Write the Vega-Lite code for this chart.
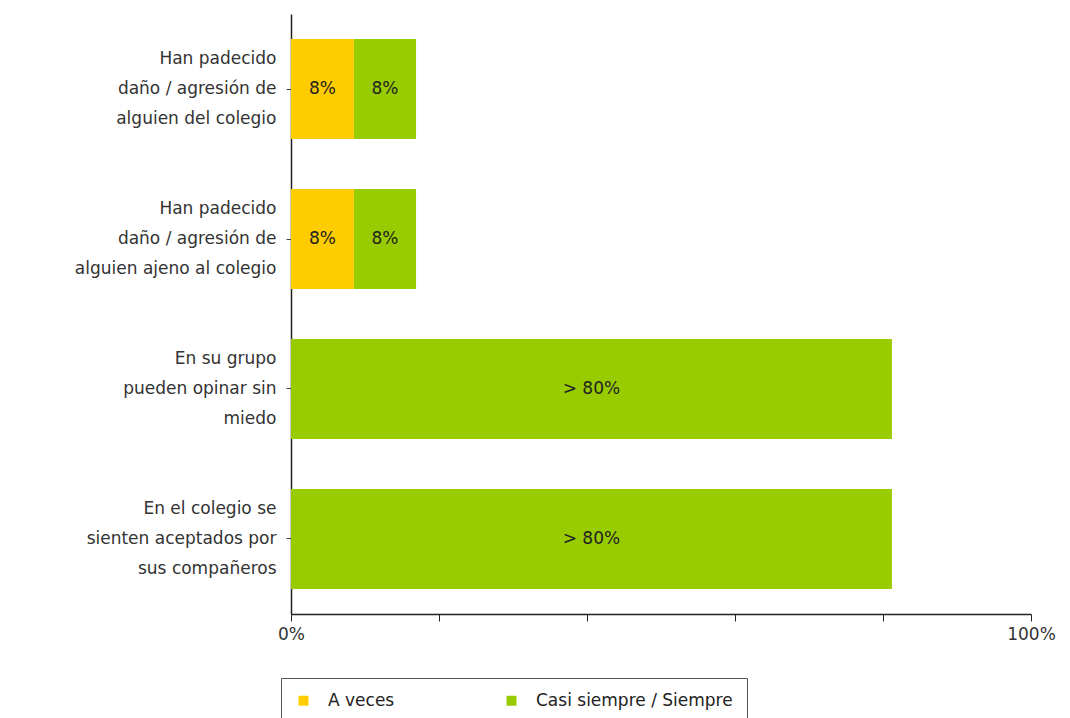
{
  "$schema": "https://vega.github.io/schema/vega-lite/v6.json",
  "autosize": {"type": "none"},
  "padding": {"left": 291, "top": 14, "right": 39, "bottom": 104},
  "width": 740,
  "height": 600,
  "background": "white",
  "config": {
    "view": {"stroke": null},
    "font": "DejaVu Sans"
  },
  "data": {
    "values": [
      {"item": "Han padecido|daño / agresión de|alguien del colegio", "category": "A veces", "value": 0.085, "text": "8%"},
      {"item": "Han padecido|daño / agresión de|alguien del colegio", "category": "Casi siempre / Siempre", "value": 0.084, "text": "8%"},
      {"item": "Han padecido|daño / agresión de|alguien ajeno al colegio", "category": "A veces", "value": 0.085, "text": "8%"},
      {"item": "Han padecido|daño / agresión de|alguien ajeno al colegio", "category": "Casi siempre / Siempre", "value": 0.084, "text": "8%"},
      {"item": "En su grupo|pueden opinar sin|miedo", "category": "Casi siempre / Siempre", "value": 0.812, "text": "> 80%"},
      {"item": "En el colegio se|sienten aceptados por|sus compañeros", "category": "Casi siempre / Siempre", "value": 0.812, "text": "> 80%"}
    ]
  },
  "transform": [
    {"stack": "value", "groupby": ["item"], "sort": [{"field": "category"}], "as": ["v0", "v1"]},
    {"calculate": "(datum.v0 + datum.v1) / 2", "as": "mid"}
  ],
  "encoding": {
    "y": {
      "field": "item",
      "type": "nominal",
      "sort": null,
      "title": null,
      "scale": {"paddingInner": 0.333, "paddingOuter": 0.167},
      "axis": {
        "labelExpr": "split(datum.label, '|')",
        "labelLineHeight": 30,
        "labelOffset": -30,
        "labelFontSize": 17,
        "labelColor": "#333333",
        "labelPadding": 10,
        "labelLimit": 400,
        "tickSize": 5,
        "tickColor": "#444444",
        "domainColor": "#222222",
        "domainWidth": 1.5
      }
    }
  },
  "layer": [
    {
      "mark": {"type": "bar"},
      "encoding": {
        "x": {
          "field": "v0",
          "type": "quantitative",
          "scale": {"domain": [0, 1], "nice": false},
          "title": null,
          "axis": {
            "values": [0, 0.2, 0.4, 0.6, 0.8, 1],
            "format": ".0%",
            "labelExpr": "datum.value == 0 || datum.value == 1 ? datum.label : ''",
            "labelFlush": false,
            "grid": false,
            "labelFontSize": 17,
            "labelColor": "#333333",
            "labelPadding": 5,
            "tickSize": 7,
            "tickColor": "#222222",
            "domainColor": "#222222",
            "domainWidth": 1.5
          }
        },
        "x2": {"field": "v1"},
        "color": {
          "field": "category",
          "type": "nominal",
          "scale": {"domain": ["A veces", "Casi siempre / Siempre"], "range": ["#FFCC00", "#99CC00"]},
          "legend": {
            "title": null,
            "orient": "none",
            "legendX": -10,
            "legendY": 664,
            "direction": "horizontal",
            "symbolType": "square",
            "symbolSize": 100,
            "symbolStrokeWidth": 0,
            "labelFontSize": 17,
            "labelColor": "#222222",
            "labelOffset": 16,
            "labelLimit": 600,
            "columnPadding": 108,
            "padding": 14,
            "strokeColor": "#555555",
            "fillColor": "white"
          }
        }
      }
    },
    {
      "mark": {"type": "text", "fontSize": 17, "color": "#222222", "baseline": "middle", "align": "center"},
      "encoding": {
        "x": {"field": "mid", "type": "quantitative"},
        "text": {"field": "text"}
      }
    }
  ]
}
